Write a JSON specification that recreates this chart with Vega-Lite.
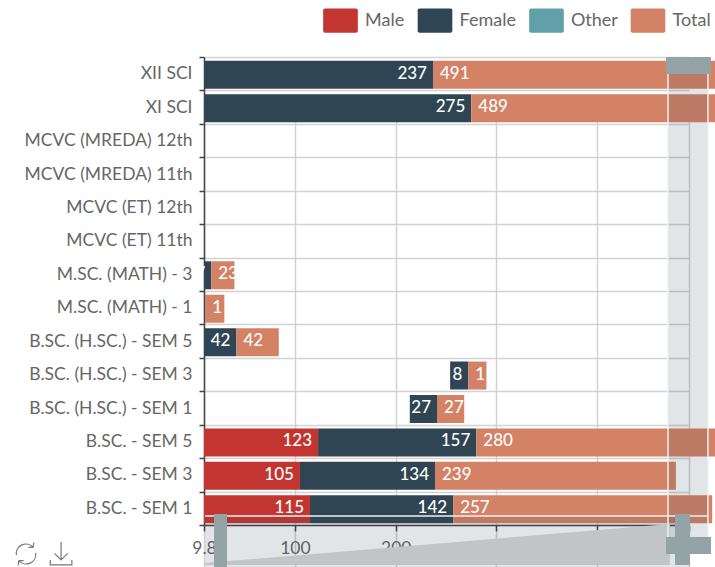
{
"$schema":"https://vega.github.io/schema/vega-lite/v6.json",
"width":485,"height":510,
"padding":{"left":204,"top":57,"right":26,"bottom":0},
"autosize":{"type":"none"},
"background":"white",
"config":{"view":{"stroke":null},"font":"Lato"},
"datasets":{"overlay":[
{"k":"track","x":470.2,"x2":509.8,"y":0,"y2":497},
{"k":"track","x":10.8,"x2":492,"y":459,"y2":510},
{"k":"edge","x":470.2,"x2":470.2,"y":17,"y2":480},
{"k":"edge","x":509.8,"x2":509.8,"y":17,"y2":480},
{"k":"edge","x":10.8,"x2":509.8,"y":459,"y2":459},
{"k":"handle","x":468.2,"x2":512.8,"y":0,"y2":17},
{"k":"handle","x":468.2,"x2":512.8,"y":480,"y2":497},
{"k":"handle","x":19.7,"x2":32.6,"y":457,"y2":510},
{"k":"handle","x":477.1,"x2":492,"y":457,"y2":508}
]},
"layer":[
{"data":{"values":[
{"c":"B.SC. - SEM 1","s":"Male","v":115,"a":9.8,"b":115,"t":"115"},{"c":"B.SC. - SEM 1","s":"Female","v":142,"a":115,"b":257,"t":"142"},{"c":"B.SC. - SEM 1","s":"Total","v":257,"a":257,"b":514,"t":"257"},
{"c":"B.SC. - SEM 3","s":"Male","v":105,"a":9.8,"b":105,"t":"105"},{"c":"B.SC. - SEM 3","s":"Female","v":134,"a":105,"b":239,"t":"134"},{"c":"B.SC. - SEM 3","s":"Total","v":239,"a":239,"b":478,"t":"239"},
{"c":"B.SC. - SEM 5","s":"Male","v":123,"a":9.8,"b":123,"t":"123"},{"c":"B.SC. - SEM 5","s":"Female","v":157,"a":123,"b":280,"t":"157"},{"c":"B.SC. - SEM 5","s":"Total","v":280,"a":280,"b":560,"t":"280"},
{"c":"B.SC. (H.SC.) - SEM 1","s":"Female","v":27,"a":214,"b":241,"t":"27"},{"c":"B.SC. (H.SC.) - SEM 1","s":"Total","v":27,"a":241,"b":268,"t":"27"},
{"c":"B.SC. (H.SC.) - SEM 3","s":"Female","v":18,"a":254,"b":272,"t":"8"},{"c":"B.SC. (H.SC.) - SEM 3","s":"Total","v":18,"a":272,"b":290,"t":"1"},
{"c":"B.SC. (H.SC.) - SEM 5","s":"Female","v":42,"a":9.8,"b":42,"t":"42"},{"c":"B.SC. (H.SC.) - SEM 5","s":"Total","v":42,"a":42,"b":84,"t":"42"},
{"c":"M.SC. (MATH) - 1","s":"Female","v":11,"a":9.8,"b":11,"t":""},{"c":"M.SC. (MATH) - 1","s":"Total","v":19,"a":11,"b":30,"t":"1"},
{"c":"M.SC. (MATH) - 3","s":"Female","v":17,"a":9.8,"b":17,"t":"7"},{"c":"M.SC. (MATH) - 3","s":"Total","v":23,"a":17,"b":40,"t":"23"},
{"c":"XI SCI","s":"Female","v":275,"a":9.8,"b":275,"t":"275"},{"c":"XI SCI","s":"Total","v":489,"a":275,"b":764,"t":"489"},
{"c":"XII SCI","s":"Female","v":237,"a":9.8,"b":237,"t":"237"},{"c":"XII SCI","s":"Total","v":491,"a":237,"b":728,"t":"491"}
]},
"layer":[
{"mark":{"type":"bar","height":28,"yOffset":1},
"encoding":{
"y":{"field":"c","type":"nominal","sort":null,
"scale":{"domain":["XII SCI","XI SCI","MCVC (MREDA) 12th","MCVC (MREDA) 11th","MCVC (ET) 12th","MCVC (ET) 11th","M.SC. (MATH) - 3","M.SC. (MATH) - 1","B.SC. (H.SC.) - SEM 5","B.SC. (H.SC.) - SEM 3","B.SC. (H.SC.) - SEM 1","B.SC. - SEM 5","B.SC. - SEM 3","B.SC. - SEM 1"],"range":[0,468],"paddingInner":0,"paddingOuter":0},
"axis":{"title":null,"tickBand":"extent","grid":true,"gridColor":"#d2d2d2","gridWidth":1.5,"domainColor":"#444444","domainWidth":1.5,"tickColor":"#444444","tickSize":5,"tickWidth":1.5,"labelFont":"Lato","labelFontSize":17.5,"labelColor":"#666666","labelPadding":7,"labelLimit":200}},
"x":{"field":"a","type":"quantitative","scale":{"domain":[9.8,491],"nice":false,"zero":false},
"axis":{"title":null,"values":[9.8,100,200,300,400,491],"labelExpr":"datum.value==9.8?'9.8':datum.label","offset":-42,"grid":true,"gridColor":"#d2d2d2","gridWidth":1.5,"domainColor":"#444444","domainWidth":1.5,"tickColor":"#444444","tickSize":6,"tickWidth":1.5,"labelFont":"Lato","labelFontSize":17.5,"labelColor":"#666666","labelPadding":8,"labelFlush":false,"labelOverlap":false}},
"x2":{"field":"b"},
"color":{"field":"s","type":"nominal","scale":{"domain":["Male","Female","Other","Total"],"range":["#c23531","#2f4554","#61a0a8","#d48265"]},
"legend":{"title":null,"orient":"none","legendX":119,"legendY":-54,"direction":"horizontal","columns":4,"columnPadding":12.5,"symbolType":"M-1,-0.6Q-1,-0.7 -0.9,-0.7L0.9,-0.7Q1,-0.7 1,-0.6L1,0.6Q1,0.7 0.9,0.7L-0.9,0.7Q-1,0.7 -1,0.6Z","symbolSize":1200,"symbolStrokeWidth":0,"symbolOpacity":1,"labelFont":"Lato","labelFontSize":18,"labelColor":"#666666","labelOffset":7}}
}},
{"transform":[{"filter":"datum.s!='Total'"}],"mark":{"type":"text","align":"right","dx":-6,"color":"white","fontSize":17,"font":"Lato","fontWeight":500},
"encoding":{"y":{"field":"c","type":"nominal","sort":null},"x":{"field":"b","type":"quantitative"},"text":{"field":"t"}}},
{"transform":[{"filter":"datum.s=='Total'"}],"mark":{"type":"text","align":"left","dx":7,"color":"white","fontSize":17,"font":"Lato","fontWeight":500},
"encoding":{"y":{"field":"c","type":"nominal","sort":null},"x":{"field":"a","type":"quantitative"},"text":{"field":"t"}}}
]},
{"layer":[
{"data":{"name":"overlay"},"transform":[{"filter":"datum.k=='track'"}],
"mark":{"type":"rect","fill":"#3a4f5c","opacity":0.15},
"encoding":{"x":{"field":"x","type":"quantitative"},"x2":{"field":"x2"},
"y":{"field":"y","type":"quantitative","scale":{"domain":[0,510],"range":[0,510],"nice":false,"zero":false},"axis":null},"y2":{"field":"y2"}}},
{"data":{"values":[{"x":10.8,"y":506,"y2":508},{"x":472,"y":467,"y2":508}]},
"mark":{"type":"area","fill":"#c1c5c8","opacity":1},
"encoding":{"x":{"field":"x","type":"quantitative"},"y":{"field":"y","type":"quantitative"},"y2":{"field":"y2"}}},
{"data":{"name":"overlay"},"transform":[{"filter":"datum.k=='edge'"}],
"mark":{"type":"rule","color":"#eef0f1","strokeWidth":1.5},
"encoding":{"x":{"field":"x","type":"quantitative"},"x2":{"field":"x2"},"y":{"field":"y","type":"quantitative"},"y2":{"field":"y2"}}},
{"data":{"name":"overlay"},"transform":[{"filter":"datum.k=='handle'"}],
"mark":{"type":"rect","fill":"#94a3a5","opacity":1},
"encoding":{"x":{"field":"x","type":"quantitative"},"x2":{"field":"x2"},"y":{"field":"y","type":"quantitative"},"y2":{"field":"y2"}}},
{"data":{"values":[{"x":-166.8,"y":497}]},
"mark":{"type":"point","filled":false,"stroke":"#777777","strokeWidth":1.2,"opacity":1,"size":576,
"shape":"M-0.8,0.1A0.8,0.8 0 0 1 0.6,-0.55M0.6,-0.55L0.65,-0.95M0.6,-0.55L0.2,-0.55M0.8,-0.1A0.8,0.8 0 0 1 -0.6,0.55M-0.6,0.55L-0.65,0.95M-0.6,0.55L-0.2,0.55"},
"encoding":{"x":{"field":"x","type":"quantitative"},"y":{"field":"y","type":"quantitative"}}},
{"data":{"values":[{"x":-132,"y":497}]},
"mark":{"type":"point","filled":false,"stroke":"#777777","strokeWidth":1.2,"opacity":1,"size":576,
"shape":"M0,-1L0,0.5M-0.55,-0.05L0,0.5L0.55,-0.05M-0.9,0.5L-0.9,0.9L0.9,0.9L0.9,0.5"},
"encoding":{"x":{"field":"x","type":"quantitative"},"y":{"field":"y","type":"quantitative"}}}
]}
],
"resolve":{"scale":{"y":"independent"}}
}
